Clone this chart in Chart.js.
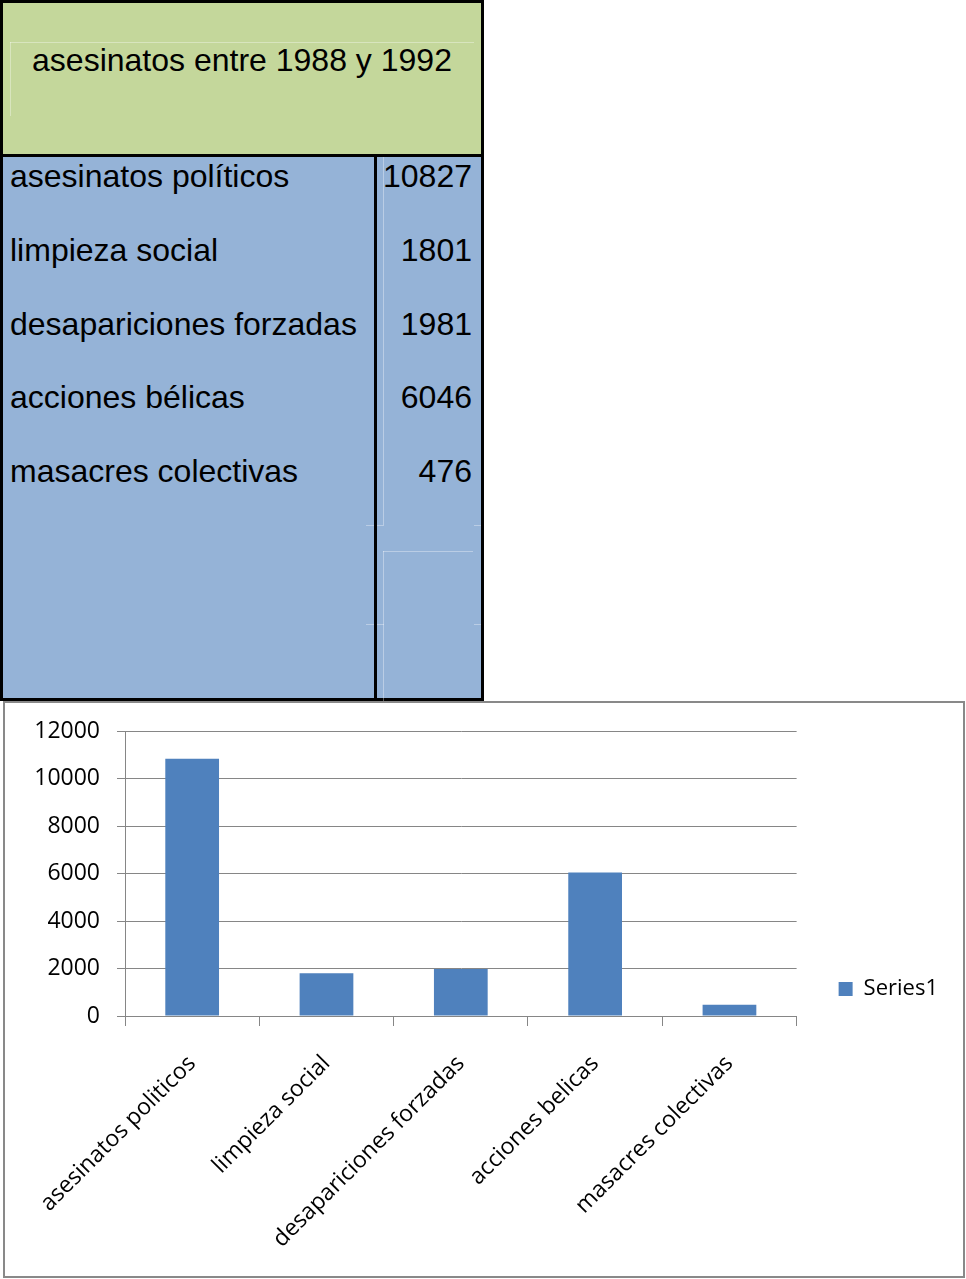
<!DOCTYPE html>
<html>
<head>
<meta charset="utf-8">
<script src="https://cdn.jsdelivr.net/npm/chart.js@4/dist/chart.umd.min.js"></script>
<style>
  body { margin: 0; background: #fff; width: 966px; height: 1279px; position: relative; overflow: hidden; }
  #tabla { position: absolute; left: 0; top: 0; width: 484px; height: 701px; box-sizing: border-box;
           border: 3px solid #000; background: #95B3D7; font-family: "Liberation Sans", Arial, sans-serif; color: #000; }
  #cabecera { position: absolute; left: 0; top: 0; width: 478px; height: 151px; background: #C4D79B;
              border-bottom: 3px solid #000; }
  #titulo { position: absolute; left: 0; top: 38px; width: 478px; text-align: center; font-size: 32px; line-height: 38px; }
  #divisor { position: absolute; left: 371px; top: 154px; width: 3px; height: 544px; background: #000; }
  .linea { position: absolute; background: rgba(255,255,255,0.35); }
  .etq { position: absolute; left: 7px; font-size: 32px; line-height: 38px; white-space: nowrap; }
  .val { position: absolute; right: 9px; font-size: 32px; line-height: 38px; text-align: right; }
  #marco { position: absolute; left: 3px; top: 701px; width: 962px; height: 577px; box-sizing: border-box;
           border: 2px solid #898989; background: #fff; }
  #grafico { position: absolute; left: 0; top: 0; }
</style>
</head>
<body>
<div id="tabla">
  <div id="cabecera">
    <div class="linea" style="left:7px;top:39px;width:464px;height:1px"></div>
    <div class="linea" style="left:7px;top:39px;width:1px;height:74px"></div>
    <div id="titulo"></div>
  </div>
  <div class="linea" style="left:380px;top:154px;width:1px;height:368px"></div>
  <div class="linea" style="left:380px;top:548px;width:1px;height:150px"></div>
  <div class="linea" style="left:363px;top:522px;width:18px;height:1px"></div>
  <div class="linea" style="left:471px;top:522px;width:7px;height:1px"></div>
  <div class="linea" style="left:380px;top:548px;width:90px;height:1px"></div>
  <div class="linea" style="left:363px;top:621px;width:18px;height:1px"></div>
  <div class="linea" style="left:471px;top:621px;width:7px;height:1px"></div>
  <div id="divisor"></div>
  <div id="filas"></div>
</div>
<div id="marco">
  <canvas id="grafico" width="958" height="573"></canvas>
</div>
<script>
var titulo = 'asesinatos entre 1988 y 1992';
var etiquetasTabla = ['asesinatos políticos', 'limpieza social', 'desapariciones forzadas', 'acciones bélicas', 'masacres colectivas'];
var categorias = ['asesinatos politicos', 'limpieza social', 'desapariciones forzadas', 'acciones belicas', 'masacres colectivas'];
var valores = [10827, 1801, 1981, 6046, 476];
var nombreSerie = 'Series1';

document.getElementById('titulo').textContent = titulo;
var filas = document.getElementById('filas');
for (var i = 0; i < etiquetasTabla.length; i++) {
    var filaTop = 154 + i * 73.75;
    var e = document.createElement('div');
    e.className = 'etq';
    e.style.top = filaTop + 'px';
    e.textContent = etiquetasTabla[i];
    filas.appendChild(e);
    var v = document.createElement('div');
    v.className = 'val';
    v.style.top = filaTop + 'px';
    v.textContent = valores[i];
    filas.appendChild(v);
}

var fuente = { family: '"Open Sans", sans-serif', size: 23 };
var gris = '#868686';

var ctx = document.getElementById('grafico');
var chart = new Chart(ctx, {
    type: 'bar',
    data: {
        labels: categorias,
        datasets: [{
            label: nombreSerie,
            data: valores,
            backgroundColor: '#4F81BD',
            borderWidth: 0,
            categoryPercentage: 1,
            barPercentage: 0.4
        }]
    },
    options: {
        responsive: false,
        animation: false,
        layout: { padding: { top: 28, left: 0, right: 15, bottom: 29 } },
        plugins: {
            tooltip: { enabled: false },
            legend: {
                position: 'right',
                labels: {
                    boxWidth: 14,
                    boxHeight: 14,
                    padding: 42,
                    color: '#000',
                    font: { family: '"Open Sans", sans-serif', size: 22 }
                }
            }
        },
        scales: {
            x: {
                offset: true,
                grid: { offset: true, drawOnChartArea: false, drawTicks: true, tickLength: 10, color: gris },
                border: { color: gris },
                ticks: { minRotation: 45, maxRotation: 45, padding: 24, color: '#000', font: fuente },
                afterFit: function (s) { s.height = 231; }
            },
            y: {
                min: 0,
                max: 12000,
                grid: { color: gris, tickLength: 8 },
                border: { color: gris },
                ticks: {
                    stepSize: 2000, padding: 17, color: '#000', font: fuente,
                    callback: function (v) { return String(v); }
                },
                afterFit: function (s) {
                    s.width = 120;
                    s.paddingTop = 10;
                }
            }
        }
    }
});
</script>
</body>
</html>
